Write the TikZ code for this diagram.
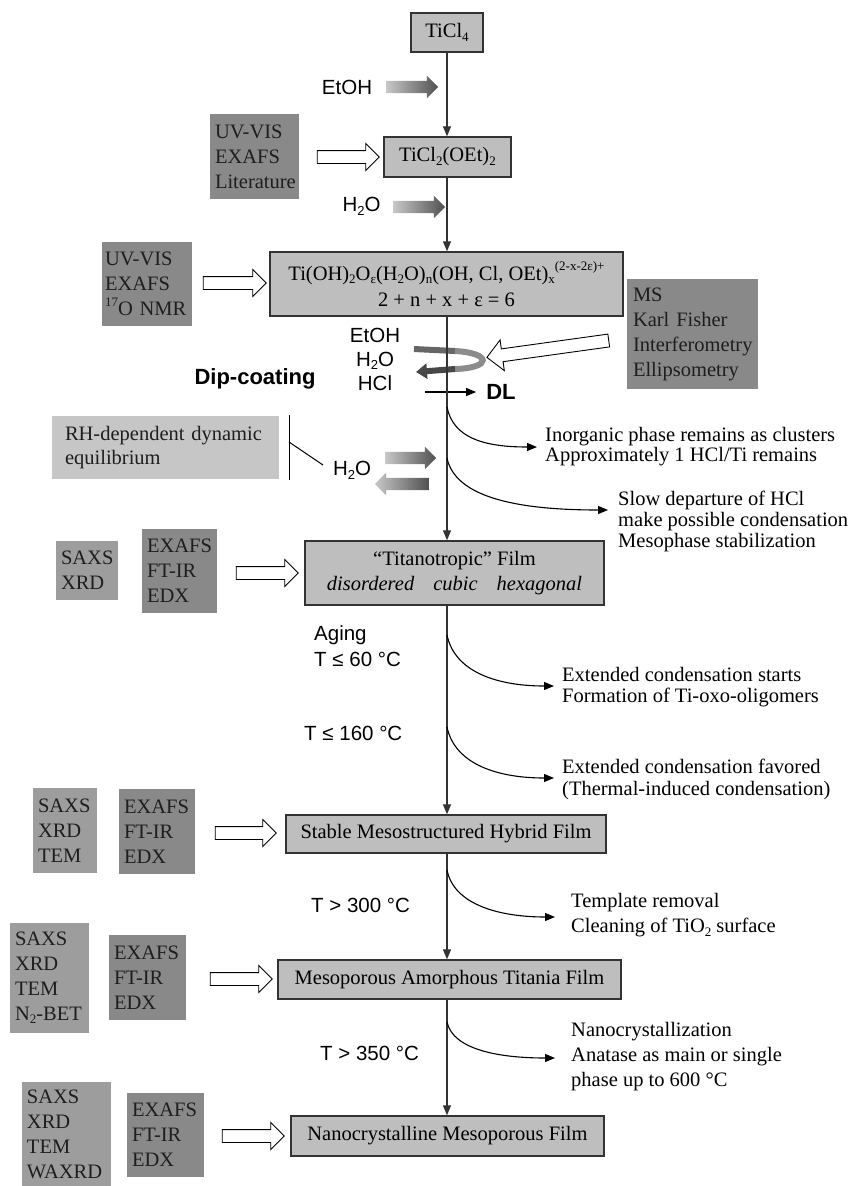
\documentclass[tikz,border=0pt]{standalone}
\usepackage{fontspec}
\setmainfont{Liberation Serif}
\setsansfont{Liberation Sans}
\usetikzlibrary{shapes.arrows,arrows.meta,calc}
\definecolor{boxfill}{HTML}{BEBEBE}
\definecolor{boxline}{HTML}{333333}
\definecolor{anadark}{HTML}{898989}
\definecolor{analight}{HTML}{9D9D9D}
\definecolor{rhfill}{HTML}{C6C6C6}
\definecolor{txtdark}{HTML}{1E1E1E}
\definecolor{gradlight}{HTML}{C8C8C8}
\definecolor{graddark}{HTML}{505050}
\newcommand{\mysub}[1]{\raisebox{-0.35ex}{\fontsize{13}{13}\selectfont #1}}
\newcommand{\mysup}[1]{\raisebox{1.0ex}{\fontsize{13}{13}\selectfont #1}}
\newcommand{\serifsz}[1]{\fontsize{20.5}{#1}\selectfont}
\tikzset{
  mainbox/.style={draw=boxline, line width=1.4pt, fill=boxfill, inner sep=0pt, font=\serifsz{26}, align=center, text=black},
  anabox/.style={fill=anadark, text=txtdark, inner xsep=5pt, inner ysep=0pt, font=\serifsz{25}, align=left},
  anaboxl/.style={anabox, fill=analight},
  rtext/.style={anchor=west, inner sep=0pt, align=left},
  sanslab/.style={font=\sffamily\fontsize{20.5}{24}\selectfont, inner sep=0pt},
  boldlab/.style={font=\sffamily\bfseries\fontsize{22}{24}\selectfont, inner sep=0pt},
  flow/.style={draw=boxline, line width=1.3pt, -{Triangle[length=10pt,width=8pt]}},
  curv/.style={draw=black, line width=1.1pt, -{Triangle[length=10pt,width=8pt]}},
  hollow/.style={single arrow, draw=black, line width=0.9pt, fill=white, inner sep=6pt, single arrow head extend=7pt},
  gradarrow/.style={single arrow, left color=gradlight, right color=graddark, draw=none, inner sep=6pt, single arrow head extend=5pt}
}
\begin{document}
\begin{tikzpicture}[x=1pt,y=-1pt]
\useasboundingbox (0,0) rectangle (854,1186);

% main boxes
\node[mainbox, minimum width=72pt, minimum height=39pt] (b1) at (447,32.5) {TiCl\mysub{4}};
\node[mainbox, minimum width=127pt, minimum height=40pt] (b2) at (447.5,157) {TiCl\mysub{2}(OEt)\mysub{2}};
\node[mainbox, minimum width=353pt, minimum height=64pt] (b3) at (446.5,284) {Ti(OH)\mysub{2}O\mysub{ε}(H\mysub{2}O)\mysub{n}(OH, Cl, OEt)\mysub{x}\mysup{(2-x-2ε)+}\\2 + n + x + ε = 6};
\node[mainbox, font=\serifsz{25}, minimum width=299pt, minimum height=64pt] (b4) at (454.5,573) {“Titanotropic” Film\\\textit{disordered\hspace{19pt}cubic\hspace{19pt}hexagonal}};
\node[mainbox, minimum width=320pt, minimum height=38pt] (b5) at (446,834) {Stable Mesostructured Hybrid Film};
\node[mainbox, minimum width=343pt, minimum height=39pt] (b6) at (449.5,979.5) {Mesoporous Amorphous Titania Film};
\node[mainbox, minimum width=313pt, minimum height=40pt] (b7) at (447.5,1136) {Nanocrystalline Mesoporous Film};

% analysis boxes
\node[anabox, text width=79pt, minimum height=85pt] (u1) at (254.5,156.5) {UV-VIS\\EXAFS\\Literature};
\node[anabox, inner xsep=3pt, text width=84pt, minimum height=84pt] (u2) at (147,284) {UV-VIS\\EXAFS\\\mysup{17}O~NMR};
\node[anabox, inner xsep=6pt, text width=119pt, minimum height=110pt] (ms) at (692.5,334) {MS\\Karl Fisher\\Interferometry\\Ellipsometry};
\node[anabox, fill=rhfill, inner xsep=13pt, text width=201pt, minimum height=63pt, font=\serifsz{24}] (rh) at (165.5,447.5) {RH-dependent dynamic\\equilibrium};
\node[anaboxl, text width=52pt, minimum height=59pt] (s1) at (87,570.5) {SAXS\\XRD};
\node[anabox, text width=65pt, minimum height=84pt] (e1) at (179.5,571) {EXAFS\\FT-IR\\EDX};
\node[anaboxl, text width=54pt, minimum height=85pt] (s2) at (65,830.5) {SAXS\\XRD\\TEM};
\node[anabox, text width=66pt, minimum height=85pt] (e2) at (157,831.5) {EXAFS\\FT-IR\\EDX};
\node[anaboxl, text width=69pt, minimum height=110pt] (s3) at (49.5,978) {SAXS\\XRD\\TEM\\N\mysub{2}-BET};
\node[anabox, text width=67pt, minimum height=85pt] (e3) at (147.5,977.5) {EXAFS\\FT-IR\\EDX};
\node[anaboxl, text width=79pt, minimum height=104pt] (s4) at (66.5,1134) {SAXS\\XRD\\TEM\\WAXRD};
\node[anabox, text width=67pt, minimum height=84pt] (e4) at (165.5,1135) {EXAFS\\FT-IR\\EDX};

% hollow arrows
\node[hollow, minimum height=62pt] (h1) at (345,157) {};
\node[hollow, minimum height=63pt] (h2) at (231.5,283) {};
\node[hollow, minimum height=123pt, single arrow head extend=9pt, rotate=187.9] (h3) at (551,348.5) {};
\node[hollow, minimum height=62pt] (h4) at (264,573) {};
\node[hollow, minimum height=61pt] (h5) at (242.5,833) {};
\node[hollow, minimum height=62pt] (h6) at (238,979) {};
\node[hollow, minimum height=62pt] (h7) at (250,1136) {};

% gradient arrows
\node[gradarrow, minimum height=52pt] (g1) at (409,87) {};
\node[gradarrow, minimum height=52pt] (g2) at (416,207) {};
\node[gradarrow, minimum height=51pt] (g3) at (407.5,458) {};
\node[gradarrow, minimum height=54pt, shape border rotate=180] (g4) at (405,484) {};

% swirl
\draw[line width=6pt, color=black!60] (414,349) -- (455,351);
\draw[line width=6pt, color=black!45] (455,351) .. controls (492,353) and (492,368) .. (455,369);
\draw[line width=6pt, color=black!72, -{Triangle[length=11pt,width=15pt]}] (455,369) -- (416,372);

% sans labels
\node[sanslab] (etoh1) at (347,87) {EtOH};
\node[sanslab] (h2o1) at (361.5,206) {H\mysub{2}O};
\node[sanslab, align=center] (dipsol) at (375,359) {EtOH\\H\mysub{2}O\\HCl};
\node[boldlab] (dip) at (255,379) {Dip-coating};
\node[boldlab] (dl) at (501,392) {DL};
\node[sanslab] (h2o2) at (352,470) {H\mysub{2}O};
\node[sanslab, anchor=west, align=left, font=\sffamily\fontsize{20.5}{26}\selectfont] (age) at (314,646) {Aging\\T ≤ 60 °C};
\node[sanslab, anchor=west] (t160) at (304,733) {T ≤ 160 °C};
\node[sanslab, anchor=west] (t300) at (311,905) {T > 300 °C};
\node[sanslab, anchor=west] (t350) at (320,1053) {T > 350 °C};

% DL arrow
\coordinate (dls) at (425,392);
\draw[curv] (dls) -- ($(dl.west)+(-10,0)$);

% bracket
\coordinate (bk1) at (289,415);
\coordinate (bk2) at (289,480);
\coordinate (bk3) at (289,442);
\coordinate (bk4) at (323,465);
\draw[line width=1pt] (bk1) -- (bk2);
\draw[line width=1pt] (bk3) -- (bk4);

% main flow
\draw[flow] (b1.south) -- (b1.south |- b2.north);
\draw[flow] (b2.south) -- (b2.south -| b1.south) -- (b1.south |- b3.north);
\draw[flow] (b1.south |- b3.south) -- (b1.south |- b4.north);
\draw[flow] (b1.south |- b4.south) -- (b1.south |- b5.north);
\draw[flow] (b1.south |- b5.south) -- (b1.south |- b6.north);
\draw[flow] (b1.south |- b6.south) -- (b1.south |- b7.north);

% right texts
\node[rtext, font=\serifsz{20}] (ta) at (545,447) {Inorganic phase remains as clusters\\Approximately 1 HCl/Ti remains};
\node[rtext, font=\serifsz{21}] (tb) at (618,521) {Slow departure of HCl\\make possible condensation\\Mesophase stabilization};
\node[rtext, font=\serifsz{21}] (tc) at (562,687.5) {Extended condensation starts\\Formation of Ti-oxo-oligomers};
\node[rtext, font=\serifsz{22}] (td) at (562,779) {Extended condensation favored\\(Thermal-induced condensation)};
\node[rtext, font=\serifsz{25}] (te) at (571,915.5) {Template removal\\Cleaning of TiO\mysub{2} surface};
\node[rtext, font=\serifsz{25}] (tf) at (571,1057) {Nanocrystallization\\Anatase as main or single\\phase up to 600 °C};

% curved arrows
\coordinate (pA) at (447,407); \coordinate (qA) at (537,447);
\coordinate (pB) at (447,458); \coordinate (qB) at (608,510);
\coordinate (pC) at (447,635); \coordinate (qC) at (554,686);
\coordinate (pD) at (447,727); \coordinate (qD) at (554,778);
\coordinate (pE) at (447,870); \coordinate (qE) at (555,917);
\coordinate (pF) at (447,1022); \coordinate (qF) at (555,1058);
\draw[curv] (pA) .. controls +(6,30) and +(-55,0) .. (qA);
\draw[curv] (pB) .. controls +(8,38) and +(-95,0) .. (qB);
\draw[curv] (pC) .. controls +(8,38) and +(-55,0) .. (qC);
\draw[curv] (pD) .. controls +(8,38) and +(-55,0) .. (qD);
\draw[curv] (pE) .. controls +(7,35) and +(-55,0) .. (qE);
\draw[curv] (pF) .. controls +(6,28) and +(-55,0) .. (qF);
\end{tikzpicture}
\end{document}
